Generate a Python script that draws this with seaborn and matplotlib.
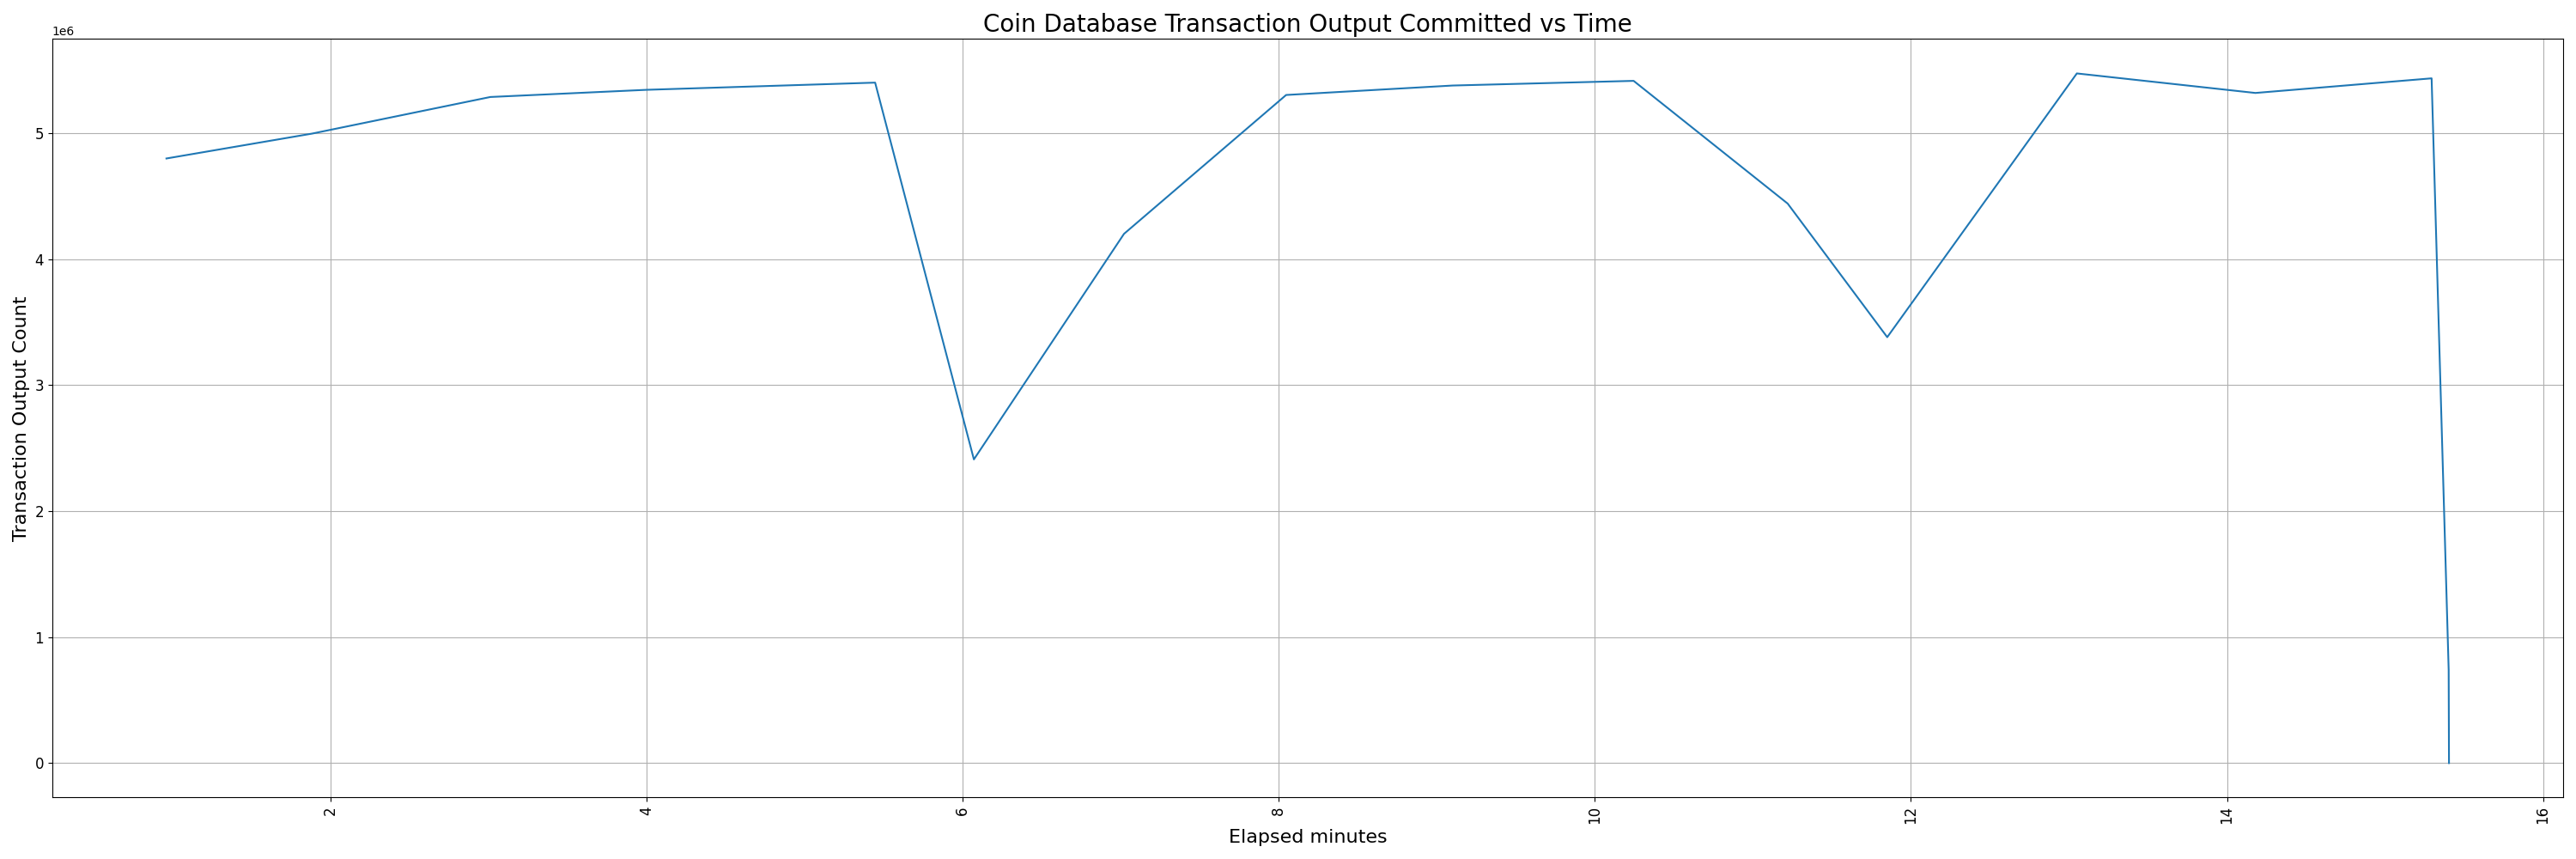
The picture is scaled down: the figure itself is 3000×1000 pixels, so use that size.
import pandas as pd
import matplotlib
matplotlib.use("Agg")
import matplotlib.pyplot as plt
import seaborn as sns

# Values
elapsed_minutes = [0.96, 1.88, 3.01, 4.00, 5.445, 6.07, 7.02, 8.046, 9.10,
                   10.245, 11.22, 11.85, 13.05, 14.18, 15.295, 15.403, 15.405]
output_count = [4.798e6, 4.995e6, 5.286e6, 5.343e6, 5.400e6, 2.41e6, 4.20e6,
                5.302e6, 5.377e6, 5.414e6, 4.44e6, 3.38e6, 5.473e6, 5.318e6,
                5.434e6, 0.74e6, 0.0]

df = pd.DataFrame({"Elapsed": elapsed_minutes, "Count": output_count})

plt.figure(figsize=(30, 10), dpi=100)
ax = sns.lineplot(data=df, x="Elapsed", y="Count", sort=False,
                  estimator=None, color="#1f77b4", linewidth=1.5)
plt.title("Coin Database Transaction Output Committed vs Time", fontsize=20)
plt.xlabel("Elapsed minutes", fontsize=16)
plt.ylabel("Transaction Output Count", fontsize=16)
plt.xticks(rotation=90, fontsize=12)
plt.yticks(fontsize=12)
plt.grid(True)
plt.tight_layout()
plt.savefig("out.png")
